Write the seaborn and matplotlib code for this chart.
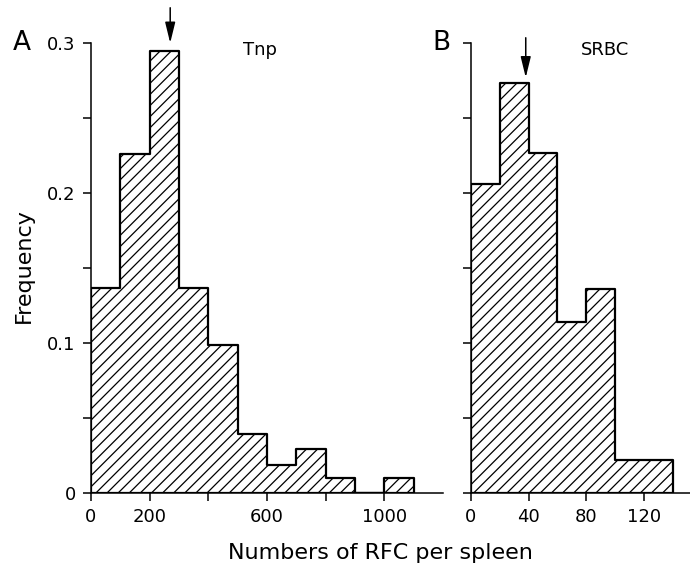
import numpy as np
import matplotlib
matplotlib.use("Agg")
import matplotlib.pyplot as plt
import seaborn as sns

# Bin edges and frequencies
tnp_edges = [0, 100, 200, 300, 400, 500, 600, 700, 800, 900, 1000, 1100]
tnp_freq = [0.137, 0.226, 0.295, 0.137, 0.099, 0.039, 0.019, 0.029, 0.010, 0.0, 0.010]
tnp_arrow = 270

srbc_edges = [0, 20, 40, 60, 80, 100, 120, 140]
srbc_freq = [0.206, 0.273, 0.227, 0.114, 0.136, 0.022, 0.022]
srbc_arrow = 38

tnp_xticks = [0, 200, 400, 600, 800, 1000]
tnp_xlabels = ["0", "200", "", "600", "", "1000"]
srbc_xticks = [0, 40, 80, 120]
srbc_xlabels = ["0", "40", "80", "120"]
yticks = [0, 0.05, 0.1, 0.15, 0.2, 0.25, 0.3]
ylabels_a = ["0", "", "0.1", "", "0.2", "", "0.3"]

sns.set_style("ticks")
plt.rcParams.update({
    "hatch.color": "black",
    "hatch.linewidth": 0.9,
    "xtick.direction": "out",
    "ytick.direction": "out",
    "xtick.major.size": 6,
    "ytick.major.size": 6,
    "xtick.major.width": 1.1,
    "ytick.major.width": 1.1,
    "axes.linewidth": 1.1,
    "axes.edgecolor": "black",
    "text.color": "black",
    "axes.labelcolor": "black",
    "xtick.color": "black",
    "ytick.color": "black",
})

fig = plt.figure(figsize=(6.9, 5.66), dpi=100)
ax_a = fig.add_axes([91 / 690, 73 / 566, 352 / 690, 450 / 566])
ax_b = fig.add_axes([471 / 690, 73 / 566, 219 / 690, 450 / 566])


def draw_panel(ax, edges, freq, xmax):
    centers = [(edges[i] + edges[i + 1]) / 2 for i in range(len(freq))]
    sns.histplot(x=centers, weights=freq, bins=edges, element="step", fill=True,
                 color="white", edgecolor="black", linewidth=1.6, hatch="///",
                 alpha=1, ax=ax)
    ax.set_xlim(0, xmax)
    ax.set_ylim(0, 0.3)
    ax.set_xlabel("")
    ax.set_ylabel("")
    ax.set_yticks(yticks)
    for s in ["top", "right"]:
        ax.spines[s].set_visible(False)
    ax.tick_params(labelsize=13, colors="black", pad=5)


draw_panel(ax_a, tnp_edges, tnp_freq, 1200)
ax_a.set_xticks(tnp_xticks)
ax_a.set_xticklabels(tnp_xlabels)
ax_a.set_yticklabels(ylabels_a)

draw_panel(ax_b, srbc_edges, srbc_freq, 152)
ax_b.set_xticks(srbc_xticks)
ax_b.set_xticklabels(srbc_xlabels)
ax_b.set_yticklabels([])

# Arrows marking the medians
arrow = dict(arrowstyle="-|>,head_length=0.9,head_width=0.22", color="black",
             lw=1.1, mutation_scale=14, shrinkA=0, shrinkB=0)
ax_a.annotate("", xy=(tnp_arrow, 0.300), xytext=(tnp_arrow, 0.3235),
              arrowprops=arrow, annotation_clip=False)
ax_b.annotate("", xy=(srbc_arrow, 0.277), xytext=(srbc_arrow, 0.3035),
              arrowprops=arrow, annotation_clip=False)

ax_a.text(518, 0.2953, "Tnp", fontsize=13, ha="left", va="center")
ax_b.text(76, 0.2953, "SRBC", fontsize=13, ha="left", va="center")

fig.text(22 / 690, 1 - 43 / 566, "A", fontsize=19, ha="center", va="center")
fig.text(441 / 690, 1 - 43 / 566, "B", fontsize=19, ha="center", va="center")
fig.text(24 / 690, 1 - 266 / 566, "Frequency", fontsize=16, rotation=90,
         ha="center", va="center")
fig.text(380 / 690, 1 - 553 / 566, "Numbers of RFC per spleen", fontsize=16,
         ha="center", va="center")

fig.savefig("out.png", dpi=100)
